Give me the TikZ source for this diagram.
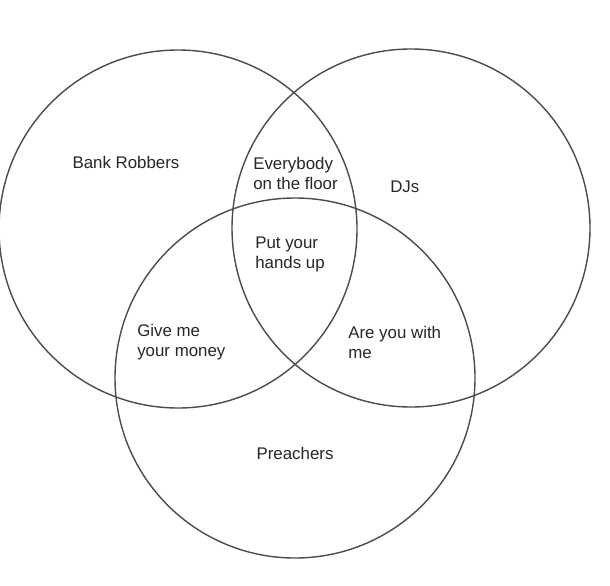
\documentclass[tikz,border=0pt]{standalone}
\usepackage{fontspec}
\setmainfont{Liberation Sans}
\usepackage{tikz}

\begin{document}
\begin{tikzpicture}[
  set/.style={draw=black!70, line width=1pt},
  label/.style={text=black!85, inner sep=0pt, font=\fontsize{12}{14.2}\selectfont},
  lbox/.style={label, align=left, anchor=west}]
  \useasboundingbox (0,0) rectangle (15.25,14.625);
  % the three sets
  \draw[set] (4.45,8.9) circle (4.475);
  \draw[set] (10.275,8.925) circle (4.475);
  \draw[set] (7.375,5.175) circle (4.5);
  % labels
  \node[label] (robbers) at (3.15,10.575) {Bank Robbers};
  \node[label, anchor=west] (djs) at (9.75,9.95) {DJs};
  \node[label] (preachers) at (7.375,3.3) {Preachers};
  \node[lbox] (floor) at (6.325,10.3) {Everybody\\on the floor};
  \node[lbox] (hands) at (6.375,8.27) {Put your\\hands up};
  \node[lbox] (money) at (3.425,6.06) {Give me\\your money};
  \node[lbox] (withme) at (8.7,6.06) {Are you with\\me};
\end{tikzpicture}
\end{document}
